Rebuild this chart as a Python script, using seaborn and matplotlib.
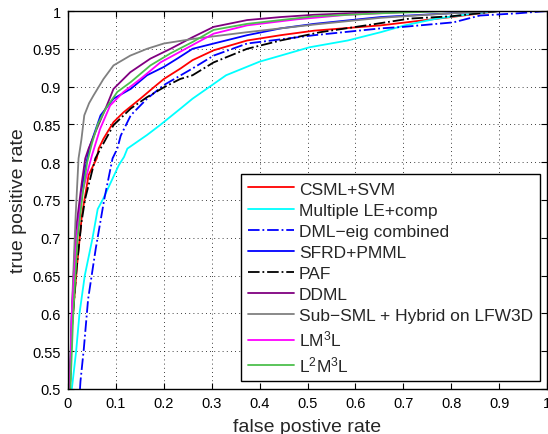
import matplotlib
matplotlib.use('Agg')
import matplotlib.pyplot as plt
import numpy as np
import pandas as pd
import seaborn as sns

# ROC points (false positive rate, true positive rate)
csml_fpr = [0.004, 0.008, 0.019, 0.029, 0.043, 0.060, 0.064, 0.074, 0.095, 0.116, 0.151, 0.179, 0.20, 0.235, 0.26, 0.304, 0.374, 0.444, 0.514, 0.653, 0.80, 0.90, 1.0]
csml_tpr = [0.5, 0.58, 0.664, 0.73, 0.783, 0.805, 0.818, 0.831, 0.853, 0.866, 0.884, 0.899, 0.910, 0.924, 0.935, 0.948, 0.961, 0.968, 0.974, 0.981, 0.992, 1.0, 1.0]

mle_fpr = [0.008, 0.017, 0.024, 0.035, 0.051, 0.062, 0.073, 0.106, 0.117, 0.124, 0.165, 0.192, 0.235, 0.26, 0.33, 0.40, 0.444, 0.504, 0.584, 0.653, 0.703, 0.77, 0.84, 0.9, 1.0]
mle_tpr = [0.5, 0.55, 0.60, 0.650, 0.699, 0.738, 0.751, 0.796, 0.807, 0.818, 0.836, 0.849, 0.871, 0.884, 0.915, 0.933, 0.941, 0.952, 0.961, 0.972, 0.981, 0.99, 0.996, 1.0, 1.0]

dml_fpr = [0.025, 0.026, 0.033, 0.042, 0.058, 0.076, 0.093, 0.103, 0.11, 0.131, 0.165, 0.20, 0.26, 0.304, 0.374, 0.514, 0.653, 0.70, 0.805, 0.86, 0.94, 1.0]
dml_tpr = [0.5, 0.51, 0.553, 0.619, 0.686, 0.752, 0.805, 0.818, 0.835, 0.862, 0.884, 0.902, 0.924, 0.941, 0.957, 0.968, 0.977, 0.979, 0.985, 0.994, 0.997, 1.0]

sfrd_fpr = [0.004, 0.008, 0.018, 0.030, 0.044, 0.068, 0.095, 0.131, 0.165, 0.20, 0.228, 0.26, 0.374, 0.444, 0.514, 0.653, 0.80, 0.88, 1.0]
sfrd_tpr = [0.5, 0.6, 0.70, 0.77, 0.818, 0.862, 0.884, 0.897, 0.915, 0.926, 0.937, 0.950, 0.968, 0.977, 0.983, 0.992, 0.997, 1.0, 1.0]

paf_fpr = [0.004, 0.008, 0.018, 0.028, 0.036, 0.057, 0.068, 0.095, 0.131, 0.165, 0.20, 0.234, 0.26, 0.304, 0.374, 0.444, 0.527, 0.633, 0.714, 0.80, 0.90, 1.0]
paf_tpr = [0.5, 0.58, 0.66, 0.72, 0.752, 0.805, 0.818, 0.849, 0.871, 0.886, 0.899, 0.910, 0.915, 0.932, 0.950, 0.961, 0.972, 0.982, 0.990, 0.993, 1.0, 1.0]

ddml_fpr = [0.004, 0.008, 0.016, 0.029, 0.036, 0.043, 0.060, 0.081, 0.095, 0.13, 0.172, 0.214, 0.259, 0.304, 0.374, 0.444, 0.514, 0.653, 0.80, 1.0]
ddml_tpr = [0.5, 0.6, 0.708, 0.774, 0.805, 0.818, 0.844, 0.875, 0.897, 0.919, 0.937, 0.950, 0.965, 0.979, 0.988, 0.992, 0.995, 0.9987, 1.0, 1.0]

subsml_fpr = [0.003, 0.009, 0.016, 0.022, 0.028, 0.034, 0.044, 0.053, 0.074, 0.095, 0.13, 0.165, 0.20, 0.26, 0.374, 0.513, 0.653, 0.80, 0.90, 1.0]
subsml_tpr = [0.5, 0.62, 0.73, 0.805, 0.83, 0.862, 0.878, 0.888, 0.910, 0.928, 0.941, 0.950, 0.957, 0.963, 0.972, 0.982, 0.991, 0.997, 1.0, 1.0]

lm3l_fpr = [0.004, 0.008, 0.018, 0.030, 0.042, 0.050, 0.067, 0.088, 0.116, 0.151, 0.193, 0.228, 0.26, 0.304, 0.374, 0.478, 0.584, 0.75, 1.0]
lm3l_tpr = [0.5, 0.6, 0.70, 0.76, 0.79, 0.809, 0.844, 0.875, 0.893, 0.910, 0.932, 0.944, 0.955, 0.970, 0.981, 0.989, 0.995, 1.0, 1.0]

l2m3l_fpr = [0.005, 0.011, 0.020, 0.031, 0.040, 0.050, 0.062, 0.080, 0.103, 0.131, 0.172, 0.214, 0.26, 0.304, 0.374, 0.514, 0.653, 0.80, 1.0]
l2m3l_tpr = [0.5, 0.6, 0.70, 0.76, 0.80, 0.825, 0.850, 0.872, 0.893, 0.906, 0.928, 0.944, 0.959, 0.975, 0.983, 0.993, 0.997, 1.0, 1.0]

labels = ['CSML+SVM', 'Multiple LE+comp', 'DML\u2212eig combined', 'SFRD+PMML', 'PAF',
          'DDML', 'Sub\u2212SML + Hybrid on LFW3D', 'LM$^3$L', 'L$^2$M$^3$L']

sns.set_style('ticks')
plt.rcParams['font.family'] = ['Liberation Sans', 'DejaVu Sans']
plt.rcParams['mathtext.default'] = 'regular'

series = [
    (csml_fpr, csml_tpr, (1, 0, 0), '-'),
    (mle_fpr, mle_tpr, (0, 1, 1), '-'),
    (dml_fpr, dml_tpr, (0, 0, 1), '-.'),
    (sfrd_fpr, sfrd_tpr, (0, 0, 1), '-'),
    (paf_fpr, paf_tpr, (0, 0, 0), '-.'),
    (ddml_fpr, ddml_tpr, (0.5, 0, 0.5), '-'),
    (subsml_fpr, subsml_tpr, (0.5, 0.5, 0.5), '-'),
    (lm3l_fpr, lm3l_tpr, (1, 0, 1), '-'),
    (l2m3l_fpr, l2m3l_tpr, (0.3, 0.75, 0.3), '-'),
]

fig = plt.figure(figsize=(5.48, 4.35), dpi=100)
ax = fig.add_axes([68 / 548, 1 - 390 / 435, 479 / 548, 378 / 435])

for (fx, fy, col, ls), lab in zip(series, labels):
    d = pd.DataFrame({'fpr': fx, 'tpr': fy})
    sns.lineplot(data=d, x='fpr', y='tpr', ax=ax, color=col, linestyle=ls,
                 linewidth=1.3, label=lab, sort=False, estimator=None)

ax.set_xlim(0, 1)
ax.set_ylim(0.5, 1)
xt = np.arange(0, 1.01, 0.1)
yt = np.arange(0.5, 1.001, 0.05)
ax.set_xticks(xt)
ax.set_yticks(yt)
ax.set_xticklabels([f'{v:g}' for v in np.round(xt, 2)])
ax.set_yticklabels([f'{v:g}' for v in np.round(yt, 2)])
ax.tick_params(direction='in', top=True, right=True, length=4, width=0.8,
               labelsize=10.5, colors='k', pad=5)
ax.grid(True, color='k', linestyle=(0, (1, 4)), linewidth=0.6)
for s in ax.spines.values():
    s.set_color('k')
    s.set_linewidth(1.0)
ax.set_xlabel('false postive rate', fontsize=14, labelpad=6)
ax.set_ylabel('true positive rate', fontsize=14, labelpad=4)

leg = ax.legend(loc='lower right', bbox_to_anchor=(0.985, 0.02), fontsize=12.5,
                frameon=True, fancybox=False, edgecolor='k', framealpha=1,
                handlelength=2.6, handletextpad=0.3, labelspacing=0.34,
                borderpad=0.4, borderaxespad=0)
leg.get_frame().set_linewidth(1.0)

fig.savefig('out.png', dpi=100)
